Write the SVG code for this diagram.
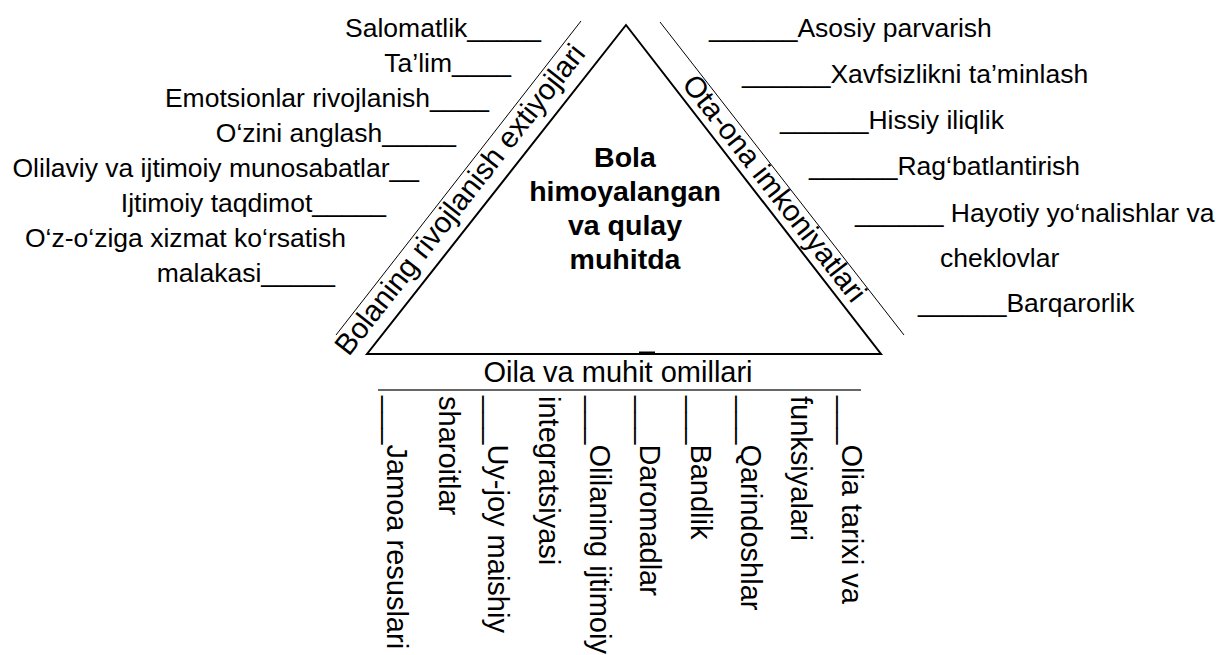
<svg xmlns="http://www.w3.org/2000/svg" width="1216" height="655" viewBox="0 0 1216 655">
<style>
text{font-family:"Liberation Sans",Arial,sans-serif;fill:#000}
.lbl{font-size:26.5px}
.end{text-anchor:end}
.ctr{font-size:28.5px;font-weight:bold;text-anchor:middle}
.side{font-size:29.5px}
.bot{font-size:29px}
.thin{stroke:#000;stroke-width:1;fill:none}
.tri{stroke:#000;stroke-width:2;fill:#fff;stroke-linejoin:miter}
</style>
<rect width="1216" height="655" fill="#fff"/>
<g id="lines">
<line class="thin" x1="336" y1="335" x2="581" y2="21"/>
<line class="thin" x1="660" y1="22" x2="904" y2="335"/>
<line x1="378" y1="390" x2="861" y2="390" stroke="#333" stroke-width="1.6"/>
</g>
<g id="triangle">
<polygon class="tri" points="626,25 367,354 881,354"/>
<line x1="639" y1="353" x2="655" y2="353" stroke="#000" stroke-width="3"/>
<text class="ctr" x="625" y="167">Bola</text>
<text class="ctr" x="625" y="201">himoyalangan</text>
<text class="ctr" x="625" y="235">va qulay</text>
<text class="ctr" x="625" y="269">muhitda</text>
</g>
<g id="side-left">
<text class="side" transform="translate(348.8,357.2) rotate(-51.9)">Bolaning rivojlanish extiyojlari</text>
</g>
<g id="side-right">
<text class="side" transform="translate(681,84.5) rotate(52.1)">Ota-ona imkoniyatlari</text>
</g>
<g id="side-bottom">
<text class="bot" x="618" y="382" text-anchor="middle">Oila va muhit omillari</text>
</g>
<g id="needs">
<text class="lbl end" x="541" y="37">Salomatlik_____</text>
<text class="lbl end" x="511" y="72">Ta’lim____</text>
<text class="lbl end" x="489" y="107">Emotsionlar rivojlanish____</text>
<text class="lbl end" x="456" y="142">O‘zini anglash_____</text>
<text class="lbl end" x="419" y="177">Olilaviy va ijtimoiy munosabatlar__</text>
<text class="lbl end" x="386" y="212">Ijtimoiy taqdimot_____</text>
<text class="lbl end" x="346" y="247">O‘z-o‘ziga xizmat ko‘rsatish</text>
<text class="lbl end" x="335" y="282">malakasi_____</text>
</g>
<g id="parents">
<text class="lbl" x="709" y="37">______Asosiy parvarish</text>
<text class="lbl" x="742" y="83">______Xavfsizlikni ta’minlash</text>
<text class="lbl" x="780" y="129">______Hissiy iliqlik</text>
<text class="lbl" x="809" y="175">______Rag‘batlantirish</text>
<text class="lbl" x="855" y="222">______ Hayotiy yo‘nalishlar va</text>
<text class="lbl" x="940" y="267">cheklovlar</text>
<text class="lbl" x="918" y="312">______Barqarorlik</text>
</g>
<g id="factors">
<text class="bot" transform="translate(386.5,396) rotate(90)">___Jamoa resuslari</text>
<text class="bot" transform="translate(439,396) rotate(90)">sharoitlar</text>
<text class="bot" transform="translate(488,396) rotate(90)">___Uy-joy maishiy</text>
<text class="bot" transform="translate(538.5,396) rotate(90)">integratsiyasi</text>
<text class="bot" transform="translate(590,396) rotate(90)">___Olilaning ijtimoiy</text>
<text class="bot" transform="translate(640,396) rotate(90)">___Daromadlar</text>
<text class="bot" transform="translate(690.5,396) rotate(90)">___Bandlik</text>
<text class="bot" transform="translate(741,396) rotate(90)">___Qarindoshlar</text>
<text class="bot" transform="translate(790.5,396) rotate(90)">funksiyalari</text>
<text class="bot" transform="translate(842,396) rotate(90)">___Olia tarixi va</text>
</g>
</svg>
